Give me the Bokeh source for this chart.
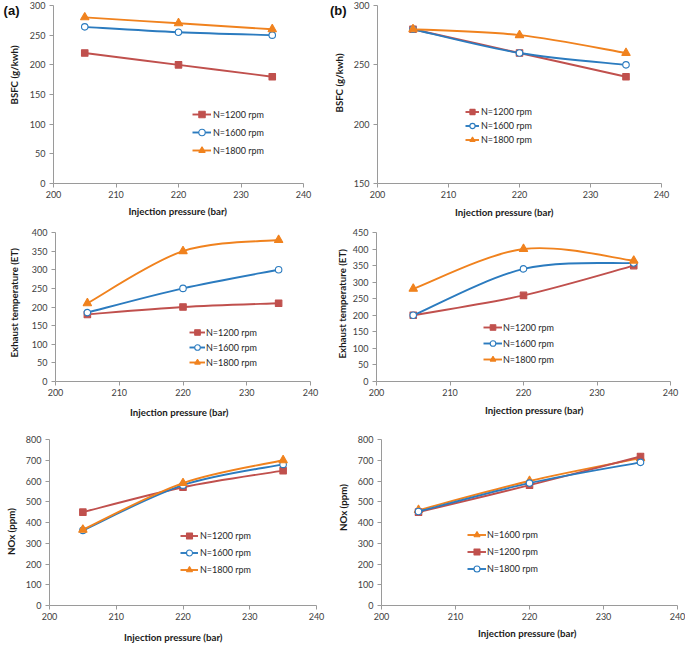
import math
from bokeh.plotting import figure
from bokeh.models import (Legend, LegendItem, FixedTicker, Range1d,
                          ColumnDataSource, Title, LinearAxis)
from bokeh.layouts import column, row
from bokeh.embed import file_html
from bokeh.resources import INLINE

# ---------------- data ----------------
pressure = [205, 220, 235]
x_ticks = [200, 210, 220, 230, 240]

bsfc_a_1200 = [220, 200, 180]
bsfc_a_1600 = [264, 255, 250]
bsfc_a_1800 = [280, 270, 260]

bsfc_b_1200 = [280, 260, 240]
bsfc_b_1600 = [280, 260, 250]
bsfc_b_1800 = [280, 275, 260]

et_a_1200 = [180, 200, 210]
et_a_1600 = [185, 250, 300]
et_a_1800 = [210, 350, 380]

et_b_1200 = [200, 260, 350]
et_b_1600 = [200, 340, 358]
et_b_1800 = [280, 400, 365]

nox_a_1200 = [450, 570, 650]
nox_a_1600 = [362, 580, 680]
nox_a_1800 = [365, 590, 700]

nox_b_1600 = [460, 600, 710]
nox_b_1200 = [450, 580, 718]
nox_b_1800 = [453, 590, 690]

bsfc_a_ticks = [0, 50, 100, 150, 200, 250, 300]
bsfc_b_ticks = [150, 200, 250, 300]
et_a_ticks = [0, 50, 100, 150, 200, 250, 300, 350, 400]
et_b_ticks = [0, 50, 100, 150, 200, 250, 300, 350, 400, 450]
nox_ticks = [0, 100, 200, 300, 400, 500, 600, 700, 800]

x_title = "Injection pressure (bar)"

# ---------------- style ----------------
RED = "#C0504D"
BLUE = "#2B7BBF"
ORANGE = "#F0821E"
AXIS = "#9A9A9A"
TICK_TXT = "#404040"
TITLE_TXT = "#1a1a1a"
FONT = "Lato"
TITLE_SIZE = "9.7px"

AW, AH, TH = 24, 18, 12          # estimated axis widths / title height
TLEN = {"BSFC (g/kwh)": 58, "Exhaust temperature (ET)": 110,
        "NOx (ppm)": 47, x_title: 99}

STYLES = {
    "sq": dict(marker="square", size=6.5, fill=RED, color=RED),
    "ci": dict(marker="circle", size=6.5, fill="white", color=BLUE),
    "tri": dict(marker="triangle", size=8.5, fill=ORANGE, color=ORANGE),
}


def smooth(xs, ys):
    n = len(xs)
    d = {k: [] for k in ("x0", "y0", "x1", "y1", "cx0", "cy0", "cx1", "cy1")}
    for i in range(n - 1):
        a = max(i - 1, 0)
        b = min(i + 2, n - 1)
        d["x0"].append(xs[i]); d["y0"].append(ys[i])
        d["x1"].append(xs[i + 1]); d["y1"].append(ys[i + 1])
        d["cx0"].append(xs[i] + (xs[i + 1] - xs[a]) / 6.0)
        d["cy0"].append(ys[i] + (ys[i + 1] - ys[a]) / 6.0)
        d["cx1"].append(xs[i + 1] - (xs[b] - xs[i]) / 6.0)
        d["cy1"].append(ys[i + 1] - (ys[b] - ys[i]) / 6.0)
    return d


def make_panel(box, frame, yrange, yticks, series, ytitle, ytc, xtc, leg,
               tag=None):
    bx0, by0, bx1, by1 = box
    fx0, fy0, fx1, fy1 = frame
    W, H = bx1 - bx0, by1 - by0
    left, top = fx0 - bx0, fy0 - by0
    fw, fh = fx1 - fx0, fy1 - fy0
    right, bottom = W - left - fw, H - top - fh

    p = figure(width=W, height=H, x_range=Range1d(200, 240),
               y_range=Range1d(*yrange), output_backend="svg",
               toolbar_location=None, min_border_left=left,
               min_border_right=right, min_border_top=top,
               min_border_bottom=bottom)
    p.outline_line_color = None
    p.grid.visible = False
    p.background_fill_color = "white"
    p.border_fill_color = "white"

    p.xaxis.ticker = FixedTicker(ticks=x_ticks, minor_ticks=[])
    p.yaxis.ticker = FixedTicker(ticks=yticks, minor_ticks=[])
    for ax in (p.xaxis[0], p.yaxis[0]):
        ax.axis_line_color = AXIS
        ax.axis_line_width = 1
        ax.major_tick_line_color = AXIS
        ax.major_tick_in = 0
        ax.major_tick_out = 4
        ax.minor_tick_line_color = None
        ax.major_label_text_font = FONT
        ax.major_label_text_font_size = "9px"
        ax.major_label_text_color = TICK_TXT
    p.yaxis.major_label_standoff = 4
    p.xaxis.major_label_standoff = 3

    items = []
    for label, vals, key in series:
        st = STYLES[key]
        src = ColumnDataSource(smooth(pressure, vals))
        bz = p.bezier(x0="x0", y0="y0", x1="x1", y1="y1", cx0="cx0",
                      cy0="cy0", cx1="cx1", cy1="cy1", source=src,
                      line_color=st["color"], line_width=1.9)
        sc = p.scatter(pressure, vals, marker=st["marker"], size=st["size"],
                       fill_color=st["fill"], line_color=st["color"],
                       line_width=1.1)
        items.append(LegendItem(label=label, renderers=[bz, sc]))

    # legend geometry
    (lx0, lx1), text_x, c_first, h, sp = leg
    n = len(items)
    ltop = (c_first - fy0) - h / 2.0
    lheight = n * h + (n - 1) * sp
    legend = Legend(items=items, location=(lx0 - fx0, fh - ltop - lheight),
                    orientation="vertical", glyph_width=lx1 - lx0,
                    glyph_height=h, label_height=h, label_width=10,
                    spacing=sp, padding=0, margin=0,
                    label_standoff=max(1, text_x - lx1),
                    border_line_color=None, background_fill_alpha=0,
                    label_text_font=FONT, label_text_font_size="9px",
                    label_text_color="#262626")
    p.add_layout(legend)

    # y title (left side)
    cx, cy = ytc
    st_y = 2 * ((fx0 - cx) - (AW + 2 + TH / 2))
    st_y = max(0, min(st_y, left - AW - 2 - TH))
    p.add_layout(Title(text=ytitle, align="left", vertical_align="top",
                       offset=(fy1 - cy) - TLEN[ytitle] / 2, standoff=st_y,
                       text_font=FONT, text_font_style="bold",
                       text_font_size=TITLE_SIZE, text_color=TITLE_TXT), "left")

    # x title (below)
    cx, cy = xtc
    st_x = 2 * ((cy - fy1) - (AH + 2 + TH / 2))
    st_x = max(0, min(st_x, bottom - AH - 2 - TH))
    p.add_layout(Title(text=x_title, align="left", vertical_align="bottom",
                       offset=(cx - fx0) - TLEN[x_title] / 2, standoff=st_x,
                       text_font=FONT, text_font_style="bold",
                       text_font_size=TITLE_SIZE, text_color=TITLE_TXT), "below")

    # panel tag "(a)" / "(b)" as the single label of an outer left axis
    if tag is not None:
        ttext, right_edge, ty = tag
        p.extra_y_ranges = {"tag": Range1d(0, fh)}
        tick = fy1 - ty
        xoff = AW + 2 + TH + st_y
        tax = LinearAxis(y_range_name="tag",
                         ticker=FixedTicker(ticks=[tick], minor_ticks=[]),
                         major_label_overrides={tick: ttext},
                         axis_line_color=None, major_tick_line_color=None,
                         minor_tick_line_color=None, major_tick_in=0,
                         major_tick_out=0,
                         major_label_standoff=int(round(fx0 - xoff - right_edge)),
                         major_label_text_font="Liberation Sans",
                         major_label_text_font_style="bold",
                         major_label_text_font_size="13px",
                         major_label_text_color="#111111")
        p.add_layout(tax, "left")
    return p


pa = make_panel((0, 0, 326, 222), (52, 5, 303, 185), (0, 300), bsfc_a_ticks,
                [("N=1200 rpm", bsfc_a_1200, "sq"),
                 ("N=1600 rpm", bsfc_a_1600, "ci"),
                 ("N=1800 rpm", bsfc_a_1800, "tri")],
                "BSFC (g/kwh)", (15, 77), (176.5, 213),
                ((191, 210), 212, 116, 16, 2), tag=("(a)", 21, 10))

pb = make_panel((326, 0, 685, 222), (373, 5, 661, 183), (150, 300), bsfc_b_ticks,
                [("N=1200 rpm", bsfc_b_1200, "sq"),
                 ("N=1600 rpm", bsfc_b_1600, "ci"),
                 ("N=1800 rpm", bsfc_b_1800, "tri")],
                "BSFC (g/kwh)", (337, 83), (500, 213),
                ((461, 475), 477, 111, 13, 1), tag=("(b)", 345, 10))

pc = make_panel((0, 222, 326, 428), (52, 232, 310, 381), (0, 400), et_a_ticks,
                [("N=1200 rpm", et_a_1200, "sq"),
                 ("N=1600 rpm", et_a_1600, "ci"),
                 ("N=1800 rpm", et_a_1800, "tri")],
                "Exhaust temperature (ET)", (10, 302), (176, 412),
                ((186, 202), 203, 332, 14, 1))

pd_ = make_panel((326, 222, 685, 428), (376, 232, 670, 389), (0, 450), et_b_ticks,
                 [("N=1200 rpm", et_b_1200, "sq"),
                  ("N=1600 rpm", et_b_1600, "ci"),
                  ("N=1800 rpm", et_b_1800, "tri")],
                 "Exhaust temperature (ET)", (345, 311), (534, 421),
                 ((483, 502), 503, 335, 14, 2))

pe = make_panel((0, 428, 326, 650), (46, 439, 316, 605), (0, 800), nox_ticks,
                [("N=1200 rpm", nox_a_1200, "sq"),
                 ("N=1600 rpm", nox_a_1600, "ci"),
                 ("N=1800 rpm", nox_a_1800, "tri")],
                "NOx (ppm)", (8, 531), (170, 643),
                ((177, 195), 197, 535, 15, 2))

pf = make_panel((326, 428, 685, 650), (381, 437, 677, 614), (0, 800), nox_ticks,
                [("N=1600 rpm", nox_b_1600, "tri"),
                 ("N=1200 rpm", nox_b_1200, "sq"),
                 ("N=1800 rpm", nox_b_1800, "ci")],
                "NOx (ppm)", (345, 516), (527, 642),
                ((467, 486), 487, 543, 15, 2))

layout = column(row(pa, pb), row(pc, pd_), row(pe, pf))

open("out.html", "w").write(file_html(layout, INLINE))
